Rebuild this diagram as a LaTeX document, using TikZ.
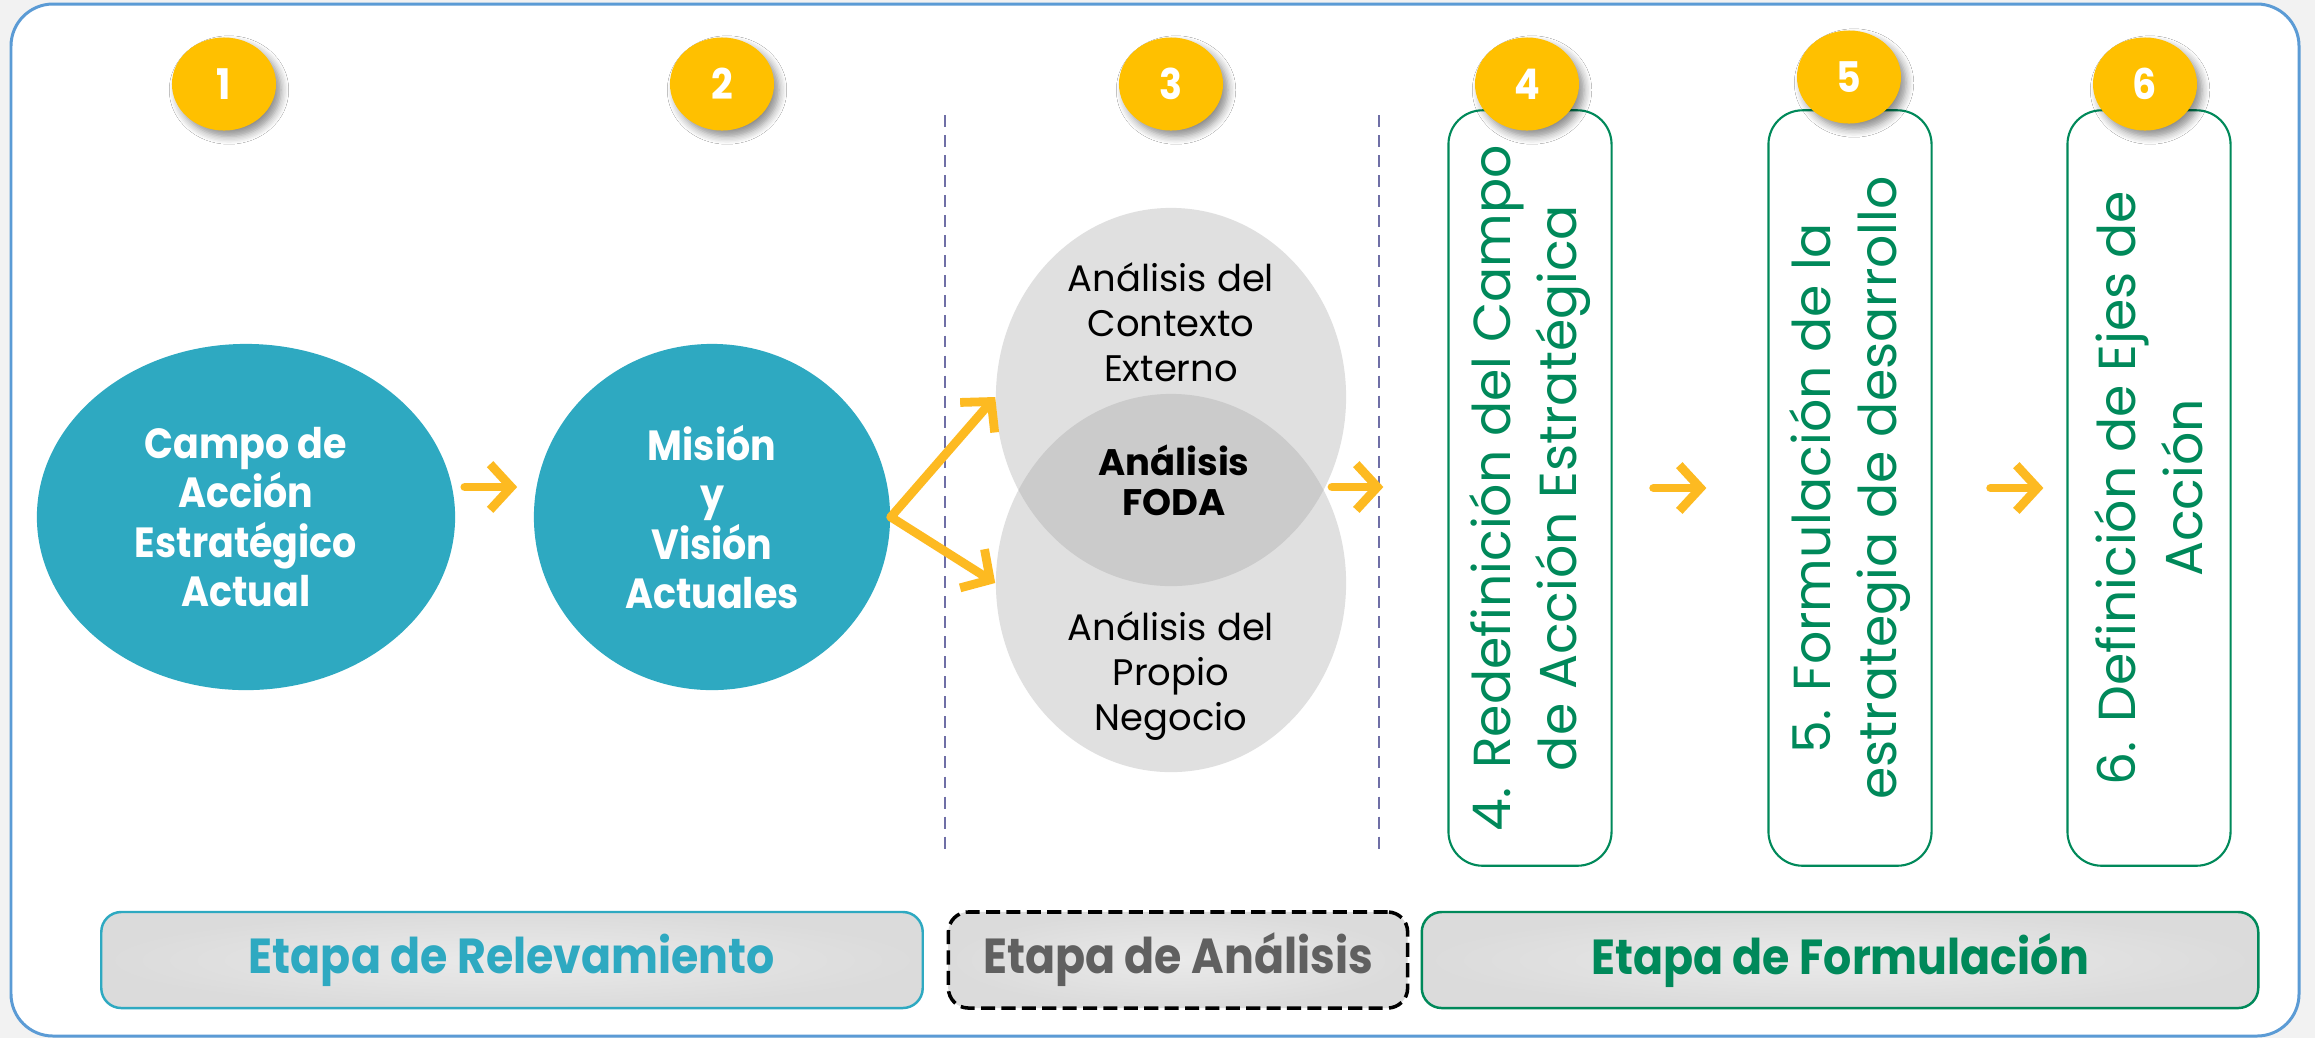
\documentclass[tikz,border=0pt]{standalone}
\usepackage{fontspec}
\setmainfont{Poppins}
\newfontfamily\narrowfont{Poppins}[FakeStretch=0.9]
\usetikzlibrary{shapes.geometric,arrows.meta,shadows.blur}
\definecolor{cbg}{HTML}{F2F2F2}
\definecolor{cframe}{HTML}{5B9BD5}
\definecolor{cteal}{HTML}{2EA9C1}
\definecolor{cyellow}{HTML}{FFC000}
\definecolor{carrow}{HTML}{FDBA21}
\definecolor{cgreen}{HTML}{00895A}
\definecolor{cvenn}{HTML}{E0E0E0}
\definecolor{cfoda}{HTML}{CBCBCB}
\definecolor{ccorte}{HTML}{6F6FA6}
\definecolor{cetapa}{HTML}{606060}
\definecolor{cetapain}{HTML}{EAEAEA}
\definecolor{cetapaout}{HTML}{DBDBDB}
\begin{document}
\begin{tikzpicture}[x=0.01cm,y=-0.01cm,
  fase/.style={ellipse,fill=cteal,inner sep=0pt,minimum height=3.46cm,text=white,align=center,
    font=\narrowfont\bfseries\fontsize{12}{14}\selectfont},
  badge/.style={ellipse,fill=cyellow,inner sep=0pt,minimum width=1.04cm,minimum height=0.93cm,text=white,
    font=\narrowfont\bfseries\fontsize{12}{14}\selectfont,
    blur shadow={shadow xshift=0.05cm,shadow yshift=-0.06cm,shadow blur steps=6,shadow opacity=45}},
  venn/.style={ellipse,fill=cvenn,inner sep=0pt,minimum width=3.5cm,minimum height=3.78cm},
  venntext/.style={align=center,font=\fontsize{10.5}{12.8}\selectfont},
  paso/.style={draw=cgreen,line width=0.6pt,fill=white,rounded corners=0.34cm,minimum width=1.63cm,minimum height=7.55cm},
  pasotext/.style={rotate=90,align=center,text=cgreen,font=\fontsize{14.8}{19}\selectfont},
  etapa/.style={rounded corners=0.2cm,line width=0.7pt,inner color=cetapain,outer color=cetapaout,
    minimum height=0.96cm,font=\narrowfont\bfseries\fontsize{14}{16}\selectfont},
  flecha/.style={draw=carrow,line width=2.5pt,line cap=round,-{Straight Barb[length=6pt,width=13pt]}},
  corte/.style={draw=ccorte,line width=0.6pt,dash pattern=on 3.4pt off 2.3pt}]
\useasboundingbox[fill=cbg] (0,0) rectangle (2315,1038);
\draw[cframe,line width=0.85pt,fill=white,rounded corners=0.42cm] (11,4) rectangle (2299,1036);
% separadores de etapas
\draw[corte] (945,115) -- (945,856);
\draw[corte] (1379,115) -- (1379,856);
% relevamiento
\node[fase,minimum width=4.18cm] (campo) at (246,517) {Campo de\\Acción\\Estratégico\\Actual};
\node[fase,minimum width=3.56cm] (mision) at (712,517) {Misión\\y\\Visión\\Actuales};
% analisis
\node[venn] (externo) at (1171,397) {};
\node[venn] (propio) at (1171,583) {};
\begin{scope}
\clip (externo.center) ellipse [x radius=1.75cm,y radius=1.89cm];
\fill[cfoda] (propio.center) ellipse [x radius=1.75cm,y radius=1.89cm];
\end{scope}
\node[venntext] (ctxt) at (1171,322) {Análisis del\\Contexto\\Externo};
\node[venntext] (ptxt) at (1171,676) {Análisis del\\Propio\\Negocio};
\node[venntext,font=\bfseries\fontsize{10.5}{11.4}\selectfont] (foda) at (1174,480) {Análisis\\FODA};
% formulacion
\node[paso] (redef) at (1530,488) {};
\node[paso] (formul) at (1850,488) {};
\node[paso] (ejes) at (2149,488) {};
\node[pasotext] (redeft) at (redef) {4. Redefinición del Campo\\de Acción Estratégica};
\node[pasotext] (formult) at (formul) {5. Formulación de la\\estrategia de desarrollo};
\node[pasotext] (ejest) at (ejes) {6. Definición de Ejes de\\Acción};
% numeros
\node[badge] (b1) at (224,84) {1};
\node[badge] (b2) at (722,84) {2};
\node[badge] (b3) at (1171,84) {3};
\node[badge] (b4) at (1527,84) {4};
\node[badge] (b5) at (1849,77) {5};
\node[badge] (b6) at (2145,84) {6};
% etapas
\node[etapa,draw=cteal,text=cteal,minimum width=8.21cm] (erel) at (512,960) {Etapa de Relevamiento};
\node[etapa,draw=black,line width=1pt,dash pattern=on 4pt off 1.8pt,text=cetapa,minimum width=4.59cm] (eana) at (1178,960) {Etapa de Análisis};
\node[etapa,draw=cgreen,text=cgreen,minimum width=8.36cm] (efor) at (1840,960) {Etapa de Formulación};
% flechas
\coordinate (fodaout) at (1332,487);
\path[flecha,shorten <=0.09cm,shorten >=0.16cm] ([yshift=0.3cm]campo.east) -- ([yshift=0.3cm]mision.west);
\path[flecha] (mision.east) -- (externo.west);
\path[flecha] (mision.east) -- (propio.west);
\path[flecha,shorten >=0.64cm] (fodaout) -- (fodaout -| redef.west);
\path[flecha,shorten <=0.41cm,shorten >=0.61cm] (redef.east) -- (formul.west);
\path[flecha,shorten <=0.58cm,shorten >=0.23cm] (formul.east) -- (ejes.west);
\end{tikzpicture}
\end{document}
